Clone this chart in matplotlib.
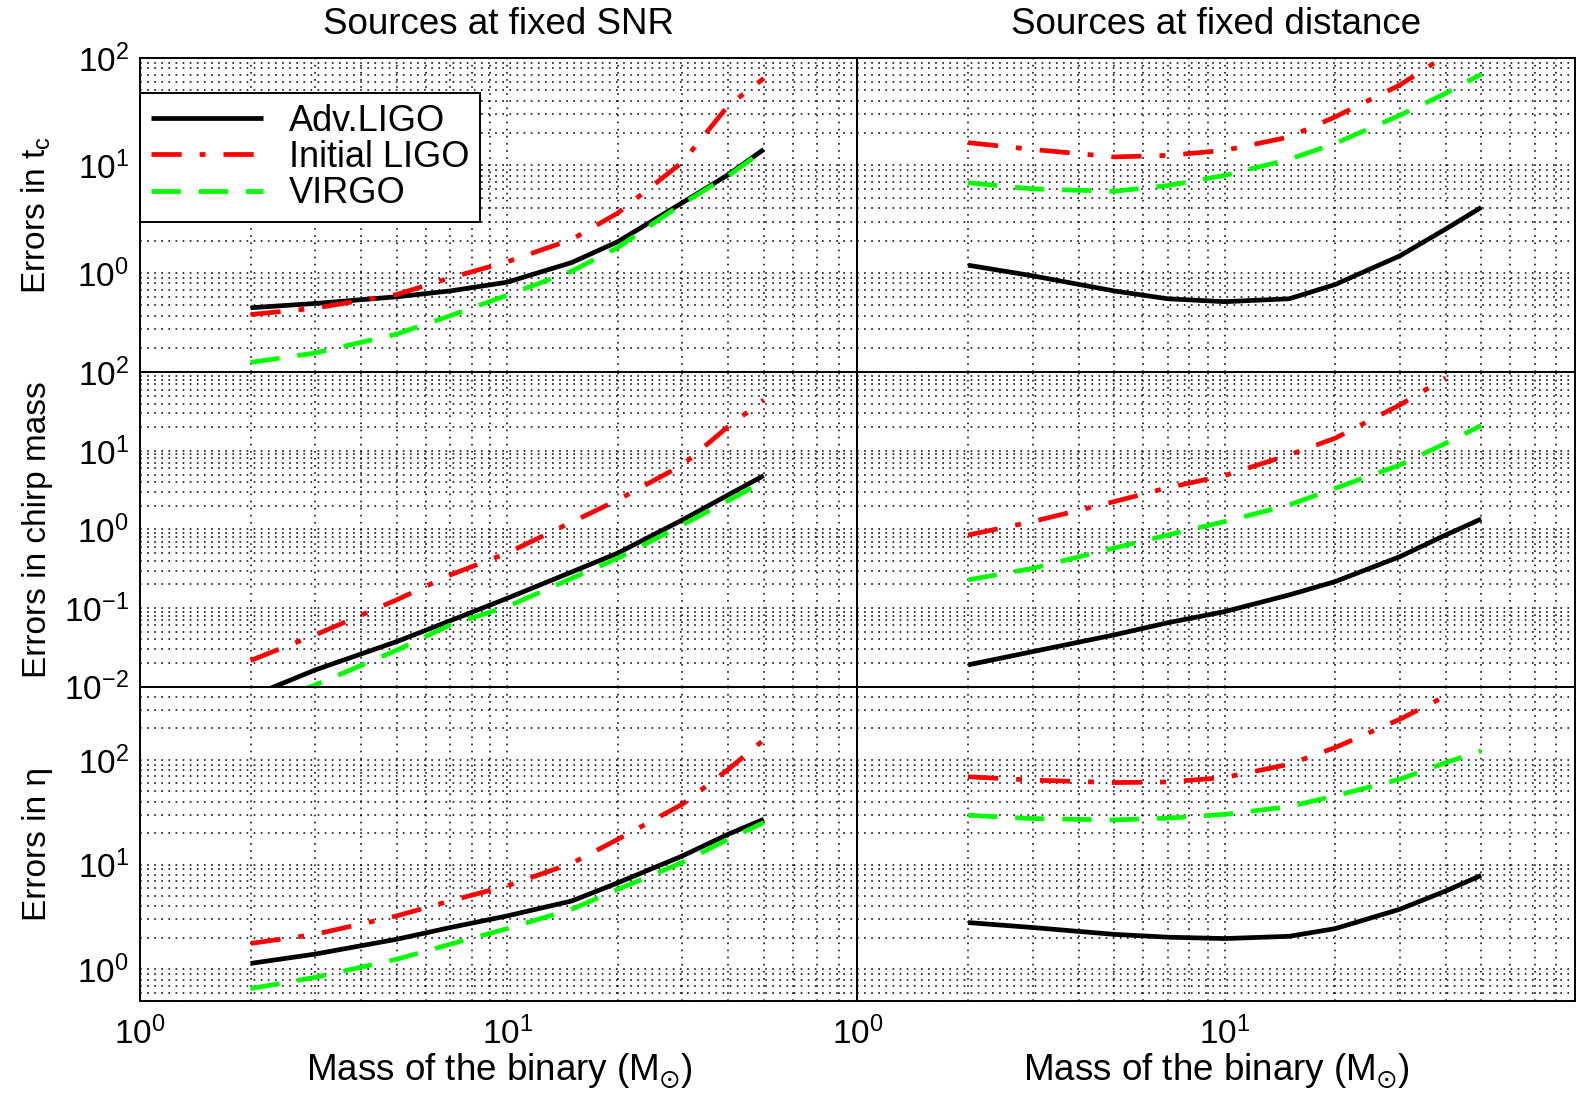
import matplotlib
matplotlib.use("Agg")
import matplotlib.pyplot as plt
from matplotlib.ticker import LogLocator, NullFormatter

plt.rcParams['font.family'] = ['Liberation Sans', 'DejaVu Sans']
plt.rcParams['mathtext.fontset'] = 'custom'
plt.rcParams['mathtext.rm'] = 'Liberation Sans'
plt.rcParams['mathtext.it'] = 'Liberation Sans:italic'
plt.rcParams['mathtext.default'] = 'regular'

# ---------------- data ----------------
mass = [2, 3, 5, 7, 10, 15, 20, 30, 40, 50]
mass_init_dist = [2, 3, 5, 7, 10, 15, 20, 30, 40]

# Sources at fixed SNR
snr_tc_adv = [0.474, 0.52, 0.60, 0.68, 0.82, 1.25, 1.95, 4.5, 8.2, 14.1]
snr_tc_init = [0.41, 0.47, 0.63, 0.90, 1.27, 2.05, 3.6, 10.7, 36, 64.5]
snr_tc_virgo = [0.147, 0.18, 0.27, 0.40, 0.62, 1.04, 1.72, 4.4, 8.0, 13.8]

snr_mc_adv = [0.0075, 0.0163, 0.0374, 0.069, 0.133, 0.288, 0.50, 1.32, 2.75, 4.85]
snr_mc_init = [0.0215, 0.0455, 0.127, 0.264, 0.50, 1.24, 2.37, 6.6, 20.4, 44.5]
snr_mc_virgo = [0.005, 0.0105, 0.029, 0.061, 0.104, 0.239, 0.43, 1.14, 2.33, 4.06]

snr_eta_adv = [1.14, 1.40, 1.94, 2.51, 3.24, 4.5, 6.7, 12.1, 19.5, 27.1]
snr_eta_init = [1.77, 2.16, 3.24, 4.51, 6.27, 10.3, 17.4, 37.7, 81, 155]
snr_eta_virgo = [0.656, 0.84, 1.25, 1.74, 2.45, 3.75, 5.8, 10.5, 17.5, 25.2]

# Sources at fixed distance
dist_tc_adv = [1.18, 0.94, 0.68, 0.575, 0.54, 0.575, 0.78, 1.44, 2.56, 4.07]
dist_tc_init = [16.3, 14.1, 12.0, 12.4, 13.8, 18.4, 28.3, 56, 105]
dist_tc_virgo = [6.9, 6.05, 5.75, 6.5, 8.07, 11.4, 16, 29.3, 46.8, 70.5]

dist_mc_adv = [0.0189, 0.0279, 0.0455, 0.065, 0.090, 0.147, 0.217, 0.45, 0.85, 1.36]
dist_mc_init = [0.85, 1.26, 2.26, 3.4, 4.85, 8.9, 14.5, 38.4, 85]
dist_mc_virgo = [0.228, 0.32, 0.58, 0.85, 1.26, 2.05, 3.34, 6.6, 12.5, 21]

dist_eta_adv = [2.80, 2.51, 2.16, 2.03, 1.97, 2.07, 2.45, 3.75, 5.6, 7.9]
dist_eta_init = [69, 64, 60.7, 61.5, 67.8, 90.8, 131, 244, 407]
dist_eta_virgo = [29.6, 27.5, 26.7, 27.8, 30.2, 35.8, 45.3, 65.3, 94, 122]

labels = ['Adv.LIGO', 'Initial LIGO', 'VIRGO']
col_titles = ['Sources at fixed SNR', 'Sources at fixed distance']
row_labels = ['Errors in t$_\\mathregular{c}$', 'Errors in chirp mass', 'Errors in \u03b7']
xlabel = 'Mass of the binary (M$_{\\odot}$)'

panels = [
    [(snr_tc_adv, snr_tc_init, snr_tc_virgo, mass), (dist_tc_adv, dist_tc_init, dist_tc_virgo, mass_init_dist)],
    [(snr_mc_adv, snr_mc_init, snr_mc_virgo, mass), (dist_mc_adv, dist_mc_init, dist_mc_virgo, mass_init_dist)],
    [(snr_eta_adv, snr_eta_init, snr_eta_virgo, mass), (dist_eta_adv, dist_eta_init, dist_eta_virgo, mass_init_dist)],
]
ylims = [(0.119, 100), (0.01, 100), (0.5, 500)]
xlim = (1, 90)

# ---------------- figure ----------------
fig = plt.figure(figsize=(15.77, 11.02), dpi=100)
gs = fig.add_gridspec(3, 2, left=0.0888, right=0.9987, top=0.9474,
                      bottom=0.0917, wspace=0, hspace=0)

LW = 3.4
styles = [
    dict(color='black', linestyle='-', lw=LW, solid_capstyle='butt'),
    dict(color='#ff0000', linestyle=(0, (6.4, 3.8, 1.25, 3.8)), lw=LW, dash_capstyle='butt'),
    dict(color='#00ff00', linestyle=(0, (6.2, 3.8)), lw=LW, dash_capstyle='butt'),
]
grid_style = dict(color='black', linestyle=(0, (1.1, 3.55)), linewidth=1.1)

axes = []
for r in range(3):
    row = []
    for c in range(2):
        ax = fig.add_subplot(gs[r, c])
        ax.set_xscale('log')
        ax.set_yscale('log')
        ax.set_xlim(*xlim)
        ax.set_ylim(*ylims[r])
        adv, init, virgo, m_init = panels[r][c]
        ax.plot(mass, adv, label=labels[0], **styles[0])
        ax.plot(m_init, init, label=labels[1], **styles[1])
        ax.plot(mass, virgo, label=labels[2], **styles[2])
        for axis in (ax.xaxis, ax.yaxis):
            axis.set_major_locator(LogLocator(base=10, numticks=20))
            axis.set_minor_locator(LogLocator(base=10, subs=range(2, 10), numticks=100))
            axis.set_minor_formatter(NullFormatter())
        ax.grid(True, which='major', **grid_style)
        ax.grid(True, which='minor', **grid_style)
        ax.tick_params(which='both', length=0, labelsize=24)
        ax.tick_params(axis='y', pad=8)
        ax.tick_params(axis='x', pad=11)
        for s in ax.spines.values():
            s.set_linewidth(1.4)
        if c == 1:
            ax.tick_params(labelleft=False)
        else:
            ax.set_ylabel(row_labels[r], fontsize=24, labelpad=8)
        if r < 2:
            ax.tick_params(labelbottom=False)
        else:
            ax.set_xlabel(xlabel, fontsize=26.5, labelpad=0)
        if r == 0:
            ax.set_title(col_titles[c], fontsize=26.5, pad=17)
        row.append(ax)
    axes.append(row)

fig.align_ylabels([axes[r][0] for r in range(3)])

leg = axes[0][0].legend(loc='upper left', bbox_to_anchor=(0.0, 0.8895),
                        borderaxespad=0, fontsize=26, frameon=True, fancybox=False,
                        edgecolor='black', framealpha=1, handlelength=3.1,
                        handletextpad=0.72, borderpad=0.3, labelspacing=0.04)
leg.get_frame().set_linewidth(1.4)

fig.savefig('out.png', dpi=100)
